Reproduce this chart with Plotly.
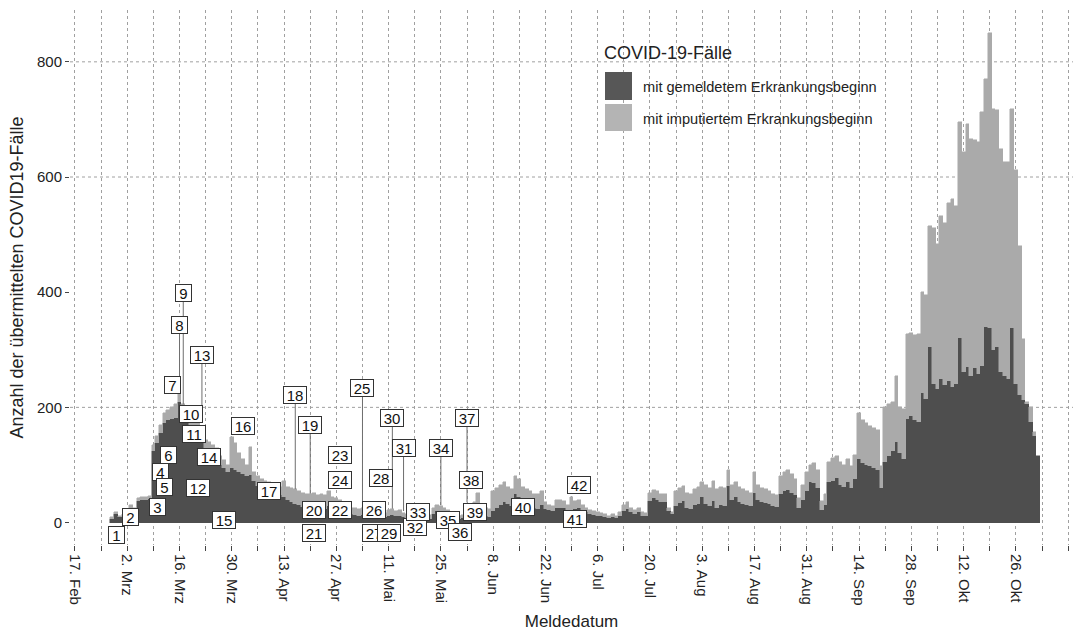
import pandas as pd
import plotly.graph_objects as go

FONT = "Liberation Sans, Arial, sans-serif"

# Meldedatum: taeglich vom 27.02. bis 01.11.2020
meldedatum = pd.date_range("2020-02-27", "2020-11-01", freq="D")

# Faelle mit gemeldetem Erkrankungsbeginn
gemeldet = [
    7, 14, 9, 11,                          # 27.02.-01.03.
    20, 26, 23, 38, 40, 40, 41,            # ab 02.03.
    125, 138, 155, 172, 178, 180, 182,     # ab 09.03.
    210, 180, 175, 170, 160, 150, 140,     # ab 16.03.
    125, 122, 118, 112, 100, 95, 88,       # ab 23.03.
    95, 92, 88, 85, 80, 82, 72,            # ab 30.03.
    64, 60, 58, 56, 52, 50, 48,            # ab 06.04.
    45, 40, 36, 32, 30, 27, 25,            # ab 13.04.
    26, 26, 24, 25, 23, 28, 22,            # ab 20.04.
    20, 20, 18, 16, 14, 13, 12,            # ab 27.04.
    13, 12, 11, 12, 10, 9, 9,              # ab 04.05.
    12, 13, 11, 12, 9, 8, 7,               # ab 11.05.
    8, 8, 7, 6, 7, 14, 20,                 # ab 18.05.
    16, 14, 12, 9, 7, 6, 8,                # ab 25.05.
    14, 12, 16, 17, 14, 11, 10,            # ab 01.06.
    20, 25, 30, 35, 32, 28, 50,            # ab 08.06.
    45, 35, 30, 28, 25, 23, 31,            # ab 15.06.
    23, 22, 20, 26, 26, 25, 20,            # ab 22.06.
    22, 24, 26, 20, 18, 15, 13,            # ab 29.06.
    12, 11, 10, 8, 10, 8, 12,              # ab 06.07.
    20, 24, 18, 15, 18, 12, 12,            # ab 13.07.
    38, 43, 40, 36, 35, 20, 14,            # ab 20.07.
    28, 34, 37, 26, 24, 30, 32,            # ab 27.07.
    45, 32, 28, 38, 26, 30, 28,            # ab 03.08.
    63, 40, 45, 36, 32, 30, 28,            # ab 10.08.
    52, 40, 36, 34, 32, 28, 27,            # ab 17.08.
    50, 55, 57, 52, 48, 25, 40,            # ab 24.08.
    55, 70, 68, 60, 22, 30, 70,            # ab 31.08.
    72, 78, 66, 62, 70, 60, 75,            # ab 07.09.
    110, 104, 100, 98, 95, 91, 60,         # ab 14.09.
    105, 115, 125, 139, 120, 110, 180,     # ab 21.09.
    185, 178, 175, 225, 215, 305, 240,     # ab 28.09.
    232, 250, 238, 245, 235, 240, 320,     # ab 05.10.
    262, 270, 255, 268, 258, 272, 340,     # ab 12.10.
    338, 300, 305, 262, 255, 250, 338,     # ab 19.10.
    240, 222, 212, 205, 175, 150, 115,     # ab 26.10.
]

# Faelle mit imputiertem Erkrankungsbeginn
imputiert = [
    2, 5, 3, 3,
    3, 5, 3, 5, 4, 5, 5,
    10, 12, 15, 18, 17, 20, 23,
    18, 25, 25, 25, 30, 30, 25,
    18, 18, 17, 18, 15, 13, 12,
    53, 46, 32, 25, 20, 50, 16,
    16, 16, 14, 14, 14, 14, 14,
    27, 22, 24, 26, 25, 25, 25,
    24, 26, 24, 25, 25, 26, 23,
    22, 20, 18, 12, 12, 12, 12,
    12, 12, 11, 10, 10, 9, 8,
    10, 11, 9, 10, 7, 6, 5,
    7, 6, 5, 5, 6, 11, 10,
    12, 11, 10, 6, 5, 5, 5,
    16, 16, 19, 35, 16, 15, 14,
    35, 35, 35, 35, 30, 30, 30,
    30, 27, 28, 27, 25, 26, 23,
    12, 8, 8, 14, 14, 13, 10,
    23, 14, 14, 10, 8, 7, 7,
    6, 5, 4, 4, 4, 4, 6,
    10, 11, 7, 7, 8, 6, 5,
    14, 14, 15, 14, 14, 5, 4,
    27, 26, 26, 26, 26, 28, 30,
    25, 33, 32, 34, 32, 32, 32,
    29, 26, 25, 26, 26, 25, 24,
    35, 25, 24, 24, 23, 22, 21,
    30, 33, 35, 33, 28, 17, 25,
    33, 30, 36, 32, 16, 20, 35,
    40, 38, 39, 38, 40, 38, 43,
    80, 74, 72, 70, 70, 69, 38,
    95, 90, 84, 115, 80, 87, 148,
    145, 148, 153, 175, 180, 210, 272,
    251, 282, 282, 310, 327, 310, 375,
    381, 422, 411, 396, 402, 441, 430,
    512, 418, 411, 387, 371, 376, 380,
    372, 258, 106, 5, 25, 7, 0,
]

# Achsenbeschriftung
tick_datum = pd.date_range("2020-02-17", "2020-10-26", freq="14D")
tick_text = ["17. Feb", "2. Mrz", "16. Mrz", "30. Mrz", "13. Apr", "27. Apr",
             "11. Mai", "25. Mai", "8. Jun", "22. Jun", "6. Jul", "20. Jul",
             "3. Aug", "17. Aug", "31. Aug", "14. Sep", "28. Sep", "12. Okt",
             "26. Okt"]
wochen_datum = pd.date_range("2020-02-17", "2020-11-09", freq="7D")
y_ticks = [0, 200, 400, 600, 800]
y_gitter = [200, 600, 800]

# nummerierte Ereignis-Marken
label_nr = list(range(1, 43))
label_datum = [
    "2020-02-28", "2020-03-03", "2020-03-10", "2020-03-11", "2020-03-12",
    "2020-03-13", "2020-03-14", "2020-03-16", "2020-03-17", "2020-03-19",
    "2020-03-20", "2020-03-21", "2020-03-22", "2020-03-24", "2020-03-28",
    "2020-04-02", "2020-04-09", "2020-04-16", "2020-04-20", "2020-04-21",
    "2020-04-21", "2020-04-28", "2020-04-28", "2020-04-28", "2020-05-04",
    "2020-05-07", "2020-05-07", "2020-05-09", "2020-05-11", "2020-05-12",
    "2020-05-15", "2020-05-18", "2020-05-19", "2020-05-25", "2020-05-27",
    "2020-05-30", "2020-06-01", "2020-06-02", "2020-06-03", "2020-06-16",
    "2020-06-30", "2020-07-01",
]
label_y = [
    -22, 10, 27, 88, 62, 117, 239, 343, 398, 189,
    154, 60, 291, 114, 5, 167, 55, 221, 169, 22,
    -18, 22, 117, 74, 234, 22, -18, 77, -18, 181,
    129, -8, 18, 129, 5, -16, 181, 74, 18, 27,
    6, 65,
]

# Verbindungslinien von einer Marke zum zugehoerigen Balken
leader_nr = [8, 9, 13, 18, 19, 25, 30, 31, 34, 37]
leader_bis = [225, 205, 180, 58, 50, 25, 24, 20, 30, 35]

W, H = 1075, 636
ML, MR, MT, MB = 70, 2, 10, 91


def px_x(px):
    return (px - ML) / (W - ML - MR)


def px_y(py):
    return (H - MB - py) / (H - MT - MB)


DUNKEL = "#4e4e4e"
HELL = "#aaaaaa"
GITTER = "#a0a0a0"

fig = go.Figure()
fig.add_trace(go.Bar(
    x=meldedatum, y=gemeldet, name="mit gemeldetem Erkrankungsbeginn",
    width=86400000, marker=dict(color=DUNKEL, line=dict(color=DUNKEL, width=0.5)),
    showlegend=False,
))
fig.add_trace(go.Bar(
    x=meldedatum, y=imputiert, name="mit imputiertem Erkrankungsbeginn",
    width=86400000, marker=dict(color=HELL, line=dict(color=HELL, width=0.5)),
    showlegend=False,
))

# Verbindungslinien
seg_x, seg_y = [], []
for nr, bis in zip(leader_nr, leader_bis):
    i = label_nr.index(nr)
    seg_x += [label_datum[i], label_datum[i], None]
    seg_y += [label_y[i], bis, None]
fig.add_trace(go.Scatter(
    x=seg_x, y=seg_y, mode="lines", line=dict(color="#6e6e6e", width=1),
    hoverinfo="skip", showlegend=False,
))

# Marken als Textkaesten
for nr, d, y in zip(label_nr, label_datum, label_y):
    fig.add_annotation(
        x=d, y=y, xref="x", yref="y", text=str(nr), showarrow=False,
        font=dict(family=FONT, size=15, color="#111"),
        bgcolor="white", bordercolor="#333", borderwidth=1, borderpad=1,
        width=13 if nr < 10 else 20, height=14,
    )

# horizontale Gitterlinien
for g in y_gitter:
    fig.add_hline(y=g, line=dict(color=GITTER, width=1, dash="dot"), layer="below")

# Legende
fig.add_annotation(
    x=px_x(602), y=px_y(53), xref="paper", yref="paper", text="COVID-19-Fälle",
    showarrow=False, xanchor="left", yanchor="middle",
    font=dict(family=FONT, size=18, color="#222"),
)
for (y0, y1, farbe, text, ty) in [
    (72, 100, "#575757", "mit gemeldetem Erkrankungsbeginn", 87),
    (104, 131, "#b4b4b4", "mit imputiertem Erkrankungsbeginn", 119),
]:
    fig.add_shape(
        type="rect", xref="paper", yref="paper",
        x0=px_x(605), x1=px_x(632), y0=px_y(y1), y1=px_y(y0),
        fillcolor=farbe, line=dict(width=0),
    )
    fig.add_annotation(
        x=px_x(641), y=px_y(ty), xref="paper", yref="paper", text=text,
        showarrow=False, xanchor="left", yanchor="middle",
        font=dict(family=FONT, size=14.6, color="#222"),
    )

fig.update_layout(
    width=W, height=H,
    margin=dict(l=ML, r=MR, t=MT, b=MB, autoexpand=False),
    plot_bgcolor="white", paper_bgcolor="white",
    barmode="stack", bargap=0,
    showlegend=False,
    font=dict(family=FONT, size=15, color="#222"),
)
fig.update_xaxes(
    type="date",
    range=["2020-02-15 16:00", "2020-11-10 07:00"],
    tickmode="array", tickvals=tick_datum, ticktext=tick_text,
    tickangle=90, ticks="outside", ticklen=5, tickcolor="#444", tickwidth=1,
    showgrid=True, gridcolor=GITTER, griddash="dot", gridwidth=1,
    minor=dict(tickmode="array", tickvals=wochen_datum, ticks="outside",
               ticklen=5, tickcolor="#444", showgrid=True, gridcolor=GITTER,
               griddash="dot", gridwidth=1),
    showline=False, zeroline=False,
    tickfont=dict(family=FONT, size=15, color="#222"),
    title=dict(text="Meldedatum", font=dict(family=FONT, size=17, color="#222"), standoff=10),
    automargin=False,
)
fig.update_yaxes(
    range=[-39, 890], tickmode="array", tickvals=y_ticks,
    ticks="outside", ticklen=4, tickcolor="#444",
    showgrid=False, zeroline=False, showline=False,
    tickfont=dict(family=FONT, size=15, color="#222"),
    title=dict(text="Anzahl der übermittelten COVID19-Fälle",
               font=dict(family=FONT, size=18, color="#222"), standoff=8),
    automargin=False,
)

fig.write_html("out.html")
